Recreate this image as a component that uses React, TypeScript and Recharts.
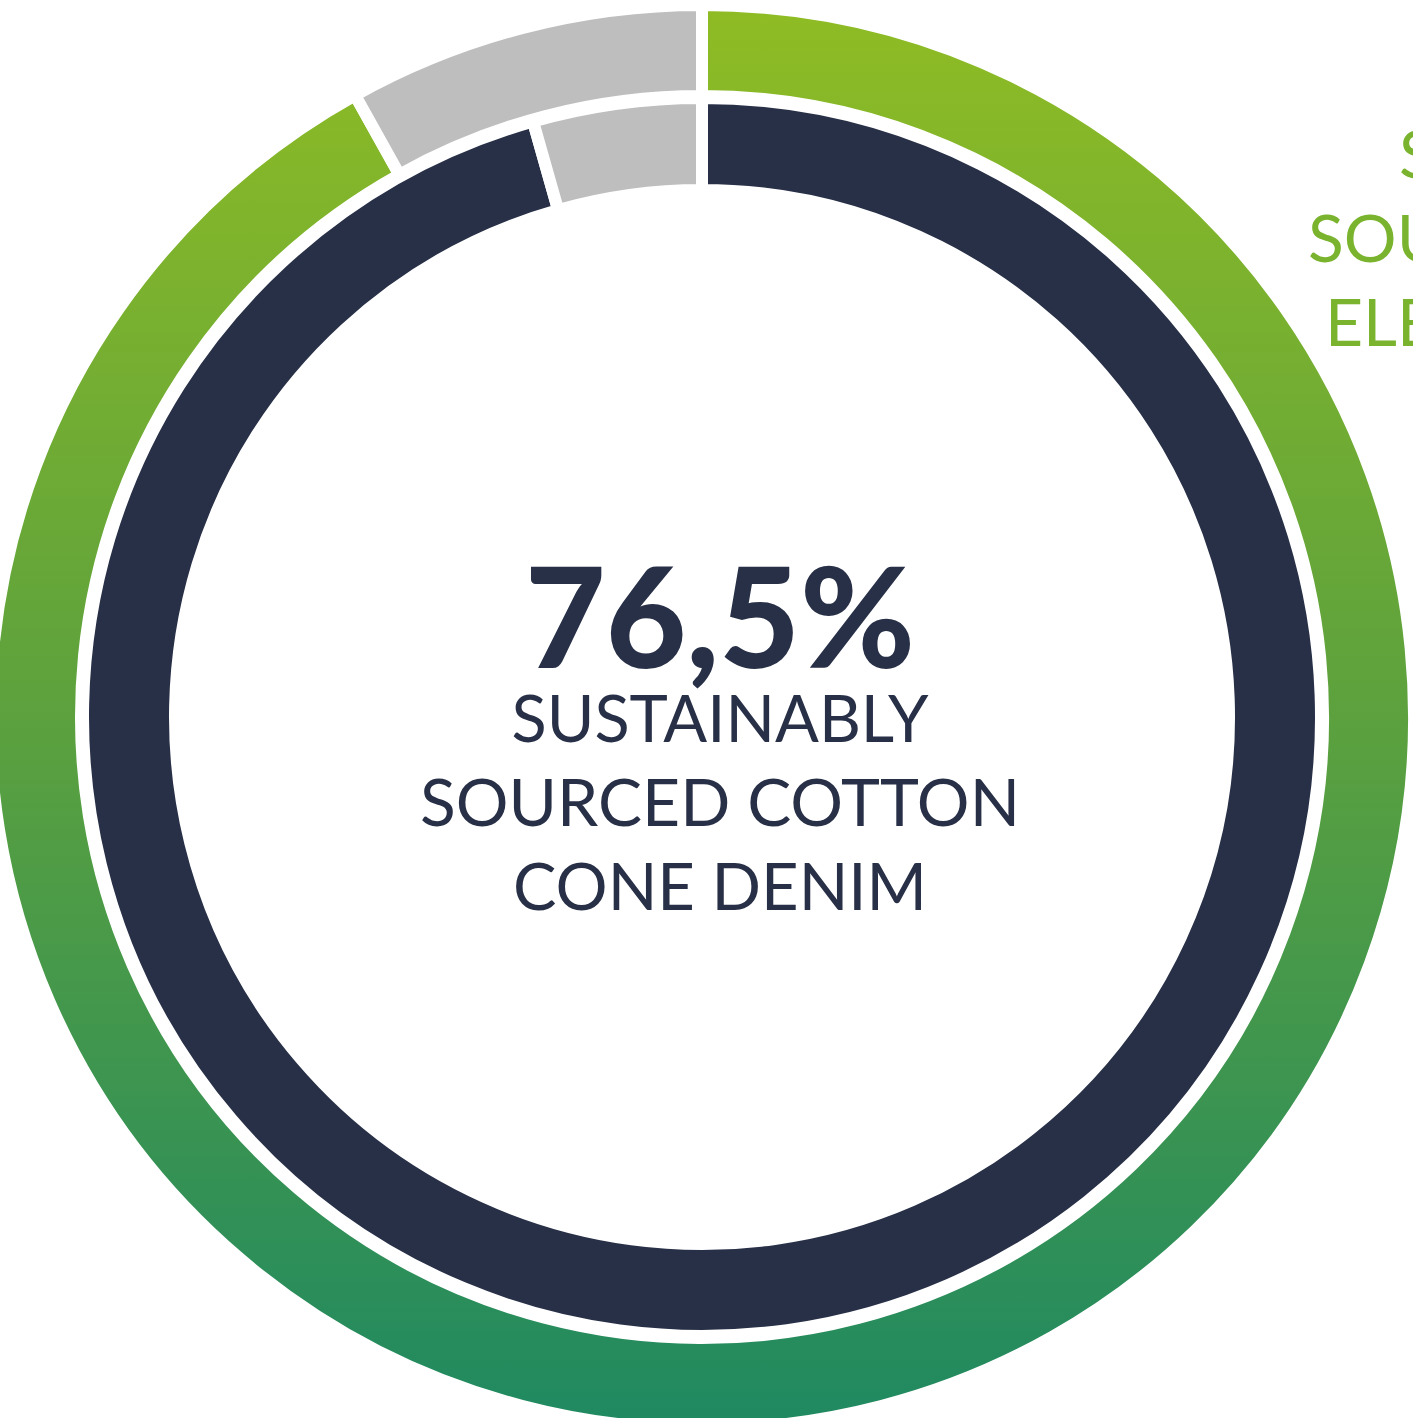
import { PieChart, Pie, Cell } from 'recharts';

// outer ring: sourced electricity share (green) vs rest (gray)
const outerNames = ['Sustainable', 'Other'];
const outerValues = [91.9, 8.1];
// inner ring: cotton share (navy) vs rest (gray)
const innerNames = ['Sustainable', 'Other'];
const innerValues = [95.6, 4.4];

const centerLines = ['SUSTAINABLY', 'SOURCED COTTON', 'CONE DENIM'];
const sideLines = ['SUSTAINABLY', 'SOURCED', 'ELECTRICITY'];
const headline = '76,5%';

const outerData = outerNames.map((name, i) => ({ name, value: outerValues[i] }));
const innerData = innerNames.map((name, i) => ({ name, value: innerValues[i] }));

const NAVY = '#283047';
const GRAY = '#bebebe';

const App = () => {
  const W = 1413;
  const H = 1418;
  const centerWidths = [417, 600, 414];
  const sideX = [1399, 1308, 1325];
  return (
    <div style={{ position: 'absolute', left: 0, top: 0, width: W, height: H, overflow: 'hidden', background: '#fff' }}>
      <PieChart width={W} height={H} margin={{ top: 0, right: 0, bottom: 0, left: 0 }}>
        <defs>
          <linearGradient id="greenGrad" x1="0" y1="0" x2="0" y2="1">
            <stop offset="0%" stopColor="#8fbc24" />
            <stop offset="50%" stopColor="#5ca13e" />
            <stop offset="100%" stopColor="#1f8961" />
          </linearGradient>
        </defs>
        <Pie
          data={innerData}
          dataKey="value"
          cx={702}
          cy={717}
          innerRadius={527}
          outerRadius={619}
          startAngle={90}
          endAngle={-270}
          stroke="#fff"
          strokeWidth={12}
          isAnimationActive={false}
        >
          <Cell fill={NAVY} />
          <Cell fill={GRAY} />
        </Pie>
        <Pie
          data={outerData}
          dataKey="value"
          cx={702}
          cy={717}
          innerRadius={621}
          outerRadius={712}
          startAngle={90}
          endAngle={-270}
          stroke="#fff"
          strokeWidth={12}
          isAnimationActive={false}
        >
          <Cell fill="url(#greenGrad)" />
          <Cell fill={GRAY} />
        </Pie>
      </PieChart>
      <svg width={W} height={H} style={{ position: 'absolute', left: 0, top: 0, pointerEvents: 'none' }}>
        <text
          x={720}
          y={668}
          textAnchor="middle"
          fill={NAVY}
          fontFamily="Lato"
          fontWeight={900}
          fontSize={139}
          textLength={390}
          lengthAdjust="spacingAndGlyphs"
        >
          {headline}
        </text>
        {centerLines.map((line, i) => (
          <text
            key={line}
            x={720}
            y={742 + i * 84}
            textAnchor="middle"
            fill={NAVY}
            fontFamily="Lato"
            fontSize={66}
            textLength={centerWidths[i]}
            lengthAdjust="spacingAndGlyphs"
          >
            {line}
          </text>
        ))}
        {sideLines.map((line, i) => (
          <text key={line} x={sideX[i]} y={178 + i * 84} fill="#7ab32e" fontFamily="Lato" fontSize={66}>
            {line}
          </text>
        ))}
      </svg>
    </div>
  );
};

export default App;
